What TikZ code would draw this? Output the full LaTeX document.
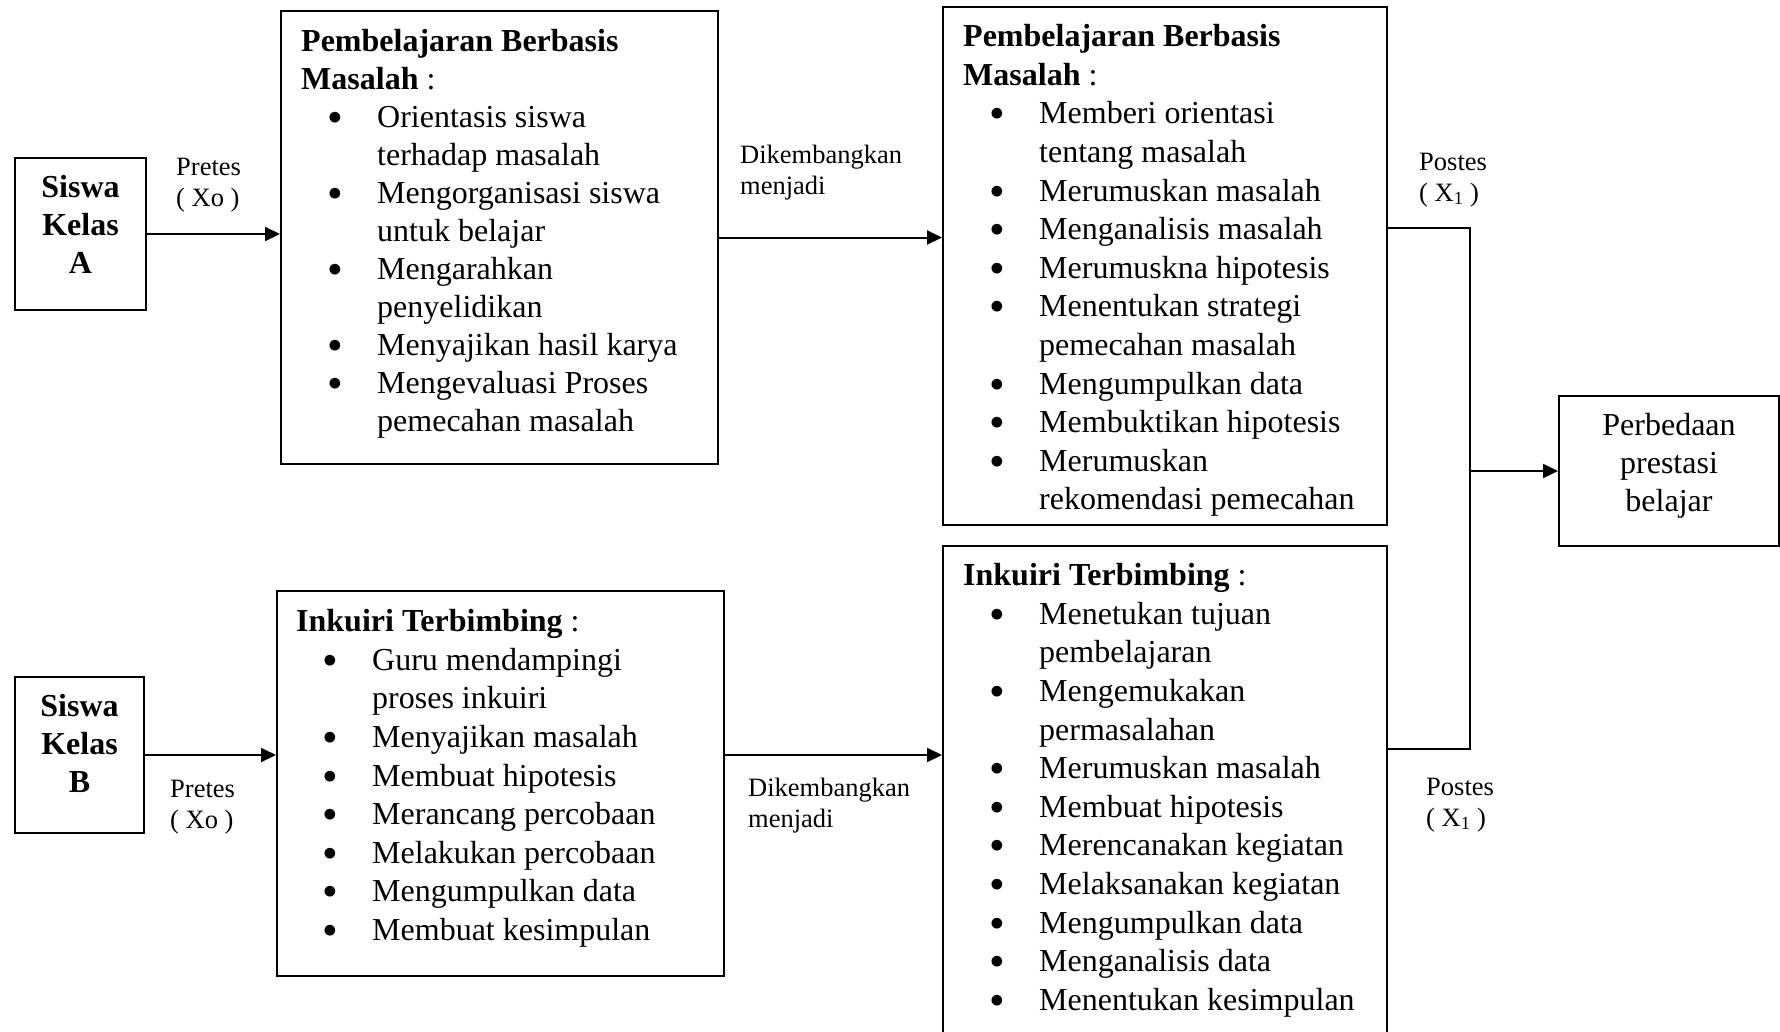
\documentclass[tikz,border=0pt]{standalone}
\usepackage{fontspec}
\setmainfont{Liberation Serif}
\usetikzlibrary{arrows.meta}

\newcommand{\butir}[1]{\makebox[76pt][l]{\hspace*{26pt}\raisebox{-5pt}{\scalebox{1.4}{\textbullet}}}#1}
\newcommand{\lanjut}[1]{\hspace*{76pt}#1}

\begin{document}
\begin{tikzpicture}[x=1pt, y=-1pt,
    kotak/.style={draw, line width=2pt, inner sep=0pt, anchor=north west},
    isi/.style={anchor=north west, inner sep=0pt, align=left, font=\fontsize{32}{38.6}\selectfont},
    judul/.style={anchor=north, inner sep=0pt, align=center, font=\fontsize{32}{38}\selectfont},
    ket/.style={anchor=north west, inner sep=0pt, align=left, font=\fontsize{26.5}{31}\selectfont},
    panah/.style={-{Triangle[length=15pt,width=14pt]}, line width=2pt},
    garis/.style={line width=2pt}]
                \useasboundingbox (0,0) rectangle (1780,1031);
                
                % kelas A
                \node[kotak, minimum width=131pt, minimum height=152pt] (A) at (14,157) {};
                \node[judul] (tA) at ([yshift=-13.4pt]A.north) {\strut\textbf{Siswa}\\\textbf{Kelas}\\\textbf{A}};
                
                \node[kotak, minimum width=437pt, minimum height=453pt] (pbm1) at (280,10) {};
                \node[isi, font=\fontsize{32}{38}\selectfont] (tpbm1) at ([xshift=21pt, yshift=-14.4pt]pbm1.north west) {\strut\textbf{Pembelajaran Berbasis}\\
                    \textbf{Masalah} :\\
                    \butir{Orientasis siswa}\\
                    \lanjut{terhadap masalah}\\
                    \butir{Mengorganisasi siswa}\\
                    \lanjut{untuk belajar}\\
                    \butir{Mengarahkan}\\
                    \lanjut{penyelidikan}\\
                    \butir{Menyajikan hasil karya}\\
                    \butir{Mengevaluasi Proses}\\
                    \lanjut{pemecahan masalah}};
                
                \node[kotak, minimum width=444pt, minimum height=518pt] (pbm2) at (942,6) {};
                \node[isi] (tpbm2) at ([xshift=21pt, yshift=-13.4pt]pbm2.north west) {\strut\textbf{Pembelajaran Berbasis}\\
                    \textbf{Masalah} :\\
                    \butir{Memberi orientasi}\\
                    \lanjut{tentang masalah}\\
                    \butir{Merumuskan masalah}\\
                    \butir{Menganalisis masalah}\\
                    \butir{Merumuskna hipotesis}\\
                    \butir{Menentukan strategi}\\
                    \lanjut{pemecahan masalah}\\
                    \butir{Mengumpulkan data}\\
                    \butir{Membuktikan hipotesis}\\
                    \butir{Merumuskan}\\
                    \lanjut{rekomendasi pemecahan}};
                
                % kelas B
                \node[kotak, minimum width=129pt, minimum height=156pt] (B) at (14,676) {};
                \node[judul] (tB) at ([yshift=-13.4pt]B.north) {\strut\textbf{Siswa}\\\textbf{Kelas}\\\textbf{B}};
                
                \node[kotak, minimum width=447pt, minimum height=385pt] (ink1) at (276,590) {};
                \node[isi] (tink1) at ([xshift=20pt, yshift=-14.4pt]ink1.north west) {\strut\textbf{Inkuiri Terbimbing} :\\
                    \butir{Guru mendampingi}\\
                    \lanjut{proses inkuiri}\\
                    \butir{Menyajikan masalah}\\
                    \butir{Membuat hipotesis}\\
                    \butir{Merancang percobaan}\\
                    \butir{Melakukan percobaan}\\
                    \butir{Mengumpulkan data}\\
                    \butir{Membuat kesimpulan}};
                
                \node[kotak, minimum width=444pt, minimum height=500pt] (ink2) at (942,545) {};
                \node[isi] (tink2) at ([xshift=21pt, yshift=-13.4pt]ink2.north west) {\strut\textbf{Inkuiri Terbimbing} :\\
                    \butir{Menetukan tujuan}\\
                    \lanjut{pembelajaran}\\
                    \butir{Mengemukakan}\\
                    \lanjut{permasalahan}\\
                    \butir{Merumuskan masalah}\\
                    \butir{Membuat hipotesis}\\
                    \butir{Merencanakan kegiatan}\\
                    \butir{Melaksanakan kegiatan}\\
                    \butir{Mengumpulkan data}\\
                    \butir{Menganalisis data}\\
                    \butir{Menentukan kesimpulan}};
                
                \node[kotak, minimum width=220pt, minimum height=150pt] (hasil) at (1558,395) {};
                \node[judul] (thasil) at ([yshift=-13.4pt]hasil.north) {\strut Perbedaan\\prestasi\\belajar};
                
                % panah
                \draw[panah] (A.east) -- (A.east -| pbm1.west);
                \draw[panah] (pbm1.east) -- (pbm1.east -| pbm2.west);
                \draw[panah] (B.east) -- (B.east -| ink1.west);
                \draw[panah] (B.east -| ink1.east) -- (B.east -| ink2.west);
                
                \coordinate (atas) at (1470,228);
                \coordinate (bawah) at (1470,749);
                \draw[garis] (pbm2.east |- atas) -- (atas) -- (bawah) -- (ink2.east |- bawah);
                \draw[panah] (hasil.west -| atas) -- (hasil.west);
                
                % keterangan
                \node[ket] (preA) at (176,153.3) {\strut Pretes\\( Xo )};
                \node[ket] (preB) at (170,775.3) {\strut Pretes\\( Xo )};
                \node[ket] (kembA) at (740,141.3) {\strut Dikembangkan\\menjadi};
                \node[ket] (kembB) at (748,774.3) {\strut Dikembangkan\\menjadi};
                \node[ket] (posA) at (1419,148.3) {\strut Postes\\( X\textsubscript{1} )};
                \node[ket] (posB) at (1426,773.3) {\strut Postes\\( X\textsubscript{1} )};
            \end{tikzpicture}
\end{document}
